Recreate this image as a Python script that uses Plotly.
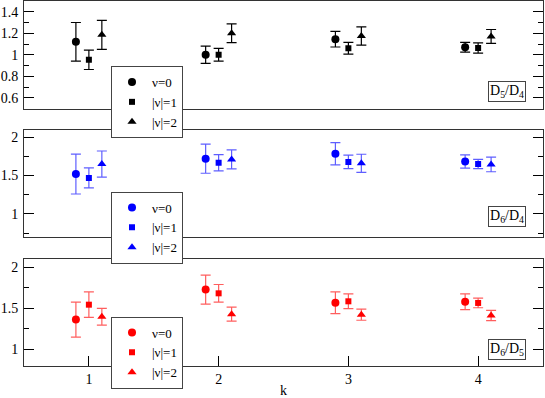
import plotly.graph_objects as go

k = [1, 2, 3, 4]
series_names = ["ν=0", "|ν|=1", "|ν|=2"]
x_offsets = [-0.1, 0.0, 0.1]
symbols = ["circle", "square", "triangle-up"]
symbol_sizes = [8, 6, 8]

# D5/D4
d54_vals = [[1.12, 1.00, 1.145, 1.07],
            [0.953, 1.00, 1.06, 1.063],
            [1.185, 1.20, 1.175, 1.17]]
d54_err = [[0.18, 0.08, 0.073, 0.045],
           [0.09, 0.06, 0.055, 0.047],
           [0.135, 0.088, 0.085, 0.065]]
# D6/D4
d64_vals = [[1.52, 1.72, 1.785, 1.683],
            [1.47, 1.667, 1.678, 1.65],
            [1.65, 1.71, 1.66, 1.645]]
d64_err = [[0.26, 0.19, 0.145, 0.087],
           [0.13, 0.107, 0.088, 0.06],
           [0.17, 0.124, 0.118, 0.095]]
# D6/D5
d65_vals = [[1.364, 1.728, 1.568, 1.58],
            [1.545, 1.683, 1.586, 1.566],
            [1.398, 1.43, 1.424, 1.414]]
d65_err = [[0.212, 0.176, 0.132, 0.096],
           [0.155, 0.107, 0.09, 0.058],
           [0.102, 0.086, 0.068, 0.062]]

panel_labels = ["D<sub>5</sub>/D<sub>4</sub>", "D<sub>6</sub>/D<sub>4</sub>", "D<sub>6</sub>/D<sub>5</sub>"]
panel_colors = ["#000000", "#0000ff", "#ff0000"]
err_colors = ["#000000", "rgba(40,40,255,0.75)", "rgba(255,40,40,0.75)"]
y_ranges = [[0.5, 1.5], [0.7, 2.1], [0.8, 2.1]]
y_dticks = [0.2, 0.5, 0.5]
y_minor = [0.1, 0.25, 0.25]

FONT = "Liberation Serif"
FRAME = "#333333"

W, H = 545, 398
ml, mr, mt, mb = 24, 2, 1, 32
ph = H - mt - mb
pw = W - ml - mr
panels_px = [(1, 108.5), (129.5, 237), (259, 366)]
domains = [[(366 - b) / ph, (366 - t) / ph] for (t, b) in panels_px]

fig = go.Figure()
all_vals = [d54_vals, d64_vals, d65_vals]
all_err = [d54_err, d64_err, d65_err]
legend_ids = ["legend", "legend2", "legend3"]

for p in range(3):
    for s in range(3):
        fig.add_trace(go.Scatter(
            x=[kk + x_offsets[s] for kk in k],
            y=all_vals[p][s],
            mode="markers",
            name=series_names[s],
            marker=dict(symbol=symbols[s], size=symbol_sizes[s], color=panel_colors[p]),
            error_y=dict(type="data", array=all_err[p][s], visible=True,
                         color=err_colors[p], thickness=1.2, width=5),
            xaxis="x" if p == 0 else f"x{p+1}",
            yaxis="y" if p == 0 else f"y{p+1}",
            legend=legend_ids[p],
            showlegend=True,
        ))

layout = dict(
    width=W, height=H,
    margin=dict(l=ml, r=mr, t=mt, b=mb, autoexpand=False),
    paper_bgcolor="white", plot_bgcolor="white",
    font=dict(family=FONT, size=14, color="black"),
    showlegend=True,
)

legend_tops_px = [66, 191.5, 316.5]
for p in range(3):
    ax_suffix = "" if p == 0 else str(p + 1)
    xa = dict(
        domain=[0, 1], range=[0.5, 4.5], anchor="y" + ax_suffix,
        showline=True, linecolor=FRAME, linewidth=1, mirror=True,
        showgrid=False, zeroline=False, automargin=False,
    )
    if p == 2:
        xa.update(tickmode="array", tickvals=k, ticktext=[str(v) for v in k],
                  ticks="inside", ticklen=10, tickcolor="black", showticklabels=True,
                  title=dict(text="k", standoff=5, font=dict(size=14)))
    else:
        xa.update(showticklabels=False, ticks="", matches="x3")
    ya = dict(
        domain=domains[p], range=y_ranges[p], anchor="x" + ax_suffix,
        showline=True, linecolor=FRAME, linewidth=1, mirror="ticks",
        ticks="inside", ticklen=10, tickcolor="black", dtick=y_dticks[p], tick0=0,
        minor=dict(ticks="inside", ticklen=5, dtick=y_minor[p], tick0=0, tickcolor="black"),
        showgrid=False, zeroline=False, ticklabelstandoff=2, automargin=False,
    )
    layout["xaxis" + ax_suffix] = xa
    layout["yaxis" + ax_suffix] = ya
    layout[legend_ids[p]] = dict(
        x=(111 - ml) / pw, xanchor="left",
        y=(366 - legend_tops_px[p]) / ph, yanchor="top",
        bgcolor="white", bordercolor="#444444", borderwidth=1,
        font=dict(family=FONT, size=13, color="black"),
        tracegroupgap=0, itemwidth=30,
    )

fig.update_layout(**layout)

label_centers_px = [91, 216.5, 349.5]
for p in range(3):
    fig.add_annotation(
        xref="paper", yref="paper",
        x=(488 - ml) / pw, xanchor="left",
        y=(366 - label_centers_px[p]) / ph, yanchor="middle",
        text=panel_labels[p], showarrow=False,
        font=dict(family=FONT, size=14, color="black"),
        bordercolor="#444444", borderwidth=1, borderpad=1, bgcolor="white",
    )

fig.write_html(
    "out.html",
    config={"displayModeBar": False},
    post_script="document.body.style.margin='0';document.body.style.padding='0';document.body.style.overflow='hidden';",
)
